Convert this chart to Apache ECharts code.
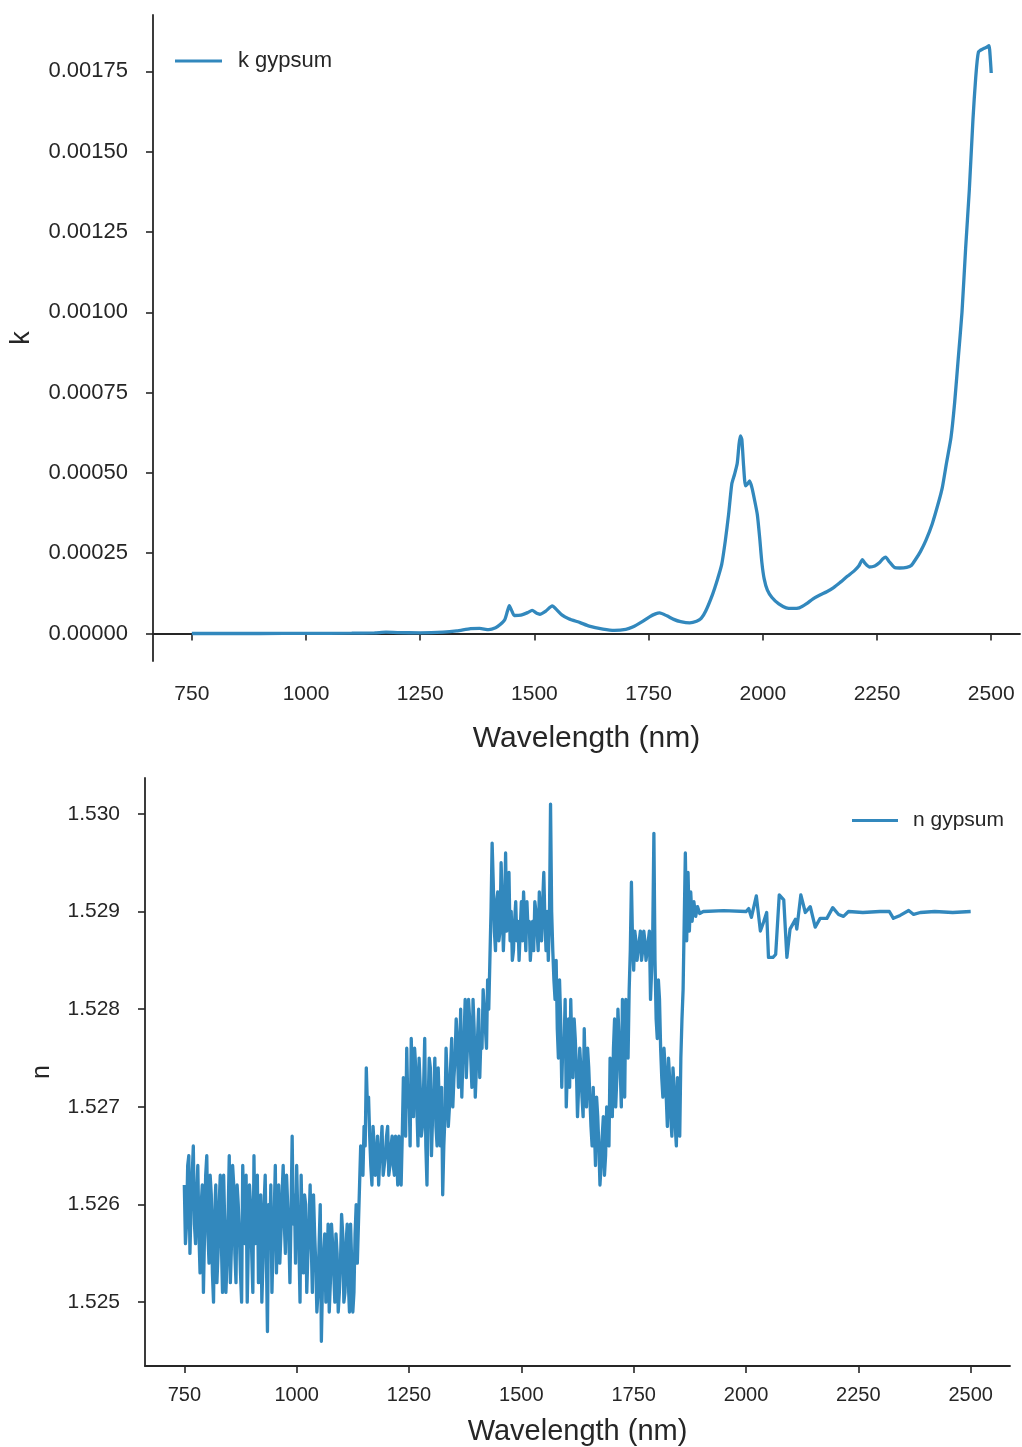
<!DOCTYPE html>
<html>
<head>
<meta charset="utf-8">
<script src="https://cdn.jsdelivr.net/npm/echarts@6/dist/echarts.min.js"></script>
<style>
html,body{margin:0;padding:0;background:#fff;}
#chart{width:1022px;height:1447px;}
</style>
</head>
<body>
<div id="chart"></div>
<script>
// ---------- data ----------
const wavelengthTicks = [750, 1000, 1250, 1500, 1750, 2000, 2250, 2500];
const kTicks = [0, 0.00025, 0.0005, 0.00075, 0.001, 0.00125, 0.0015, 0.00175];
const nTicks = [1.525, 1.526, 1.527, 1.528, 1.529, 1.530];

const kWavelength = [750, 800, 900, 1000, 1100, 1150, 1175, 1200, 1250, 1300, 1330, 1360, 1380, 1400, 1415, 1425, 1435, 1441, 1445, 1450, 1456, 1470, 1485, 1495, 1505, 1512, 1525, 1539, 1548, 1560, 1575, 1600, 1620, 1650, 1675, 1700, 1715, 1735, 1752, 1765, 1774, 1790, 1805, 1820, 1840, 1855, 1865, 1875, 1890, 1900, 1910, 1918, 1925, 1932, 1938, 1944, 1948, 1951, 1954, 1958, 1962, 1966, 1971, 1976, 1982, 1988, 1993, 1998, 2003, 2010, 2020, 2035, 2051, 2065, 2080, 2095, 2110, 2125, 2140, 2155, 2170, 2185, 2200, 2210, 2218, 2224, 2233, 2245, 2255, 2263, 2269, 2276, 2288, 2300, 2315, 2325, 2335, 2345, 2357, 2371, 2385, 2393, 2402, 2412, 2420, 2428, 2436, 2444, 2452, 2460, 2466, 2472, 2482, 2490, 2495, 2498, 2500];
const kValues = [0, 0, 0, 0.0000005, 0.000001, 0.000002, 0.000004, 0.000003, 0.000002, 0.000004, 0.000008, 0.000015, 0.000016, 0.000012, 0.000018, 0.000028, 0.000043, 0.000070, 0.000087, 0.000072, 0.000056, 0.000057, 0.000065, 0.000072, 0.000063, 0.000060, 0.000070, 0.000086, 0.000075, 0.000058, 0.000046, 0.000034, 0.000023, 0.000014, 0.000010, 0.000013, 0.000020, 0.000036, 0.000052, 0.000061, 0.000064, 0.000055, 0.000044, 0.000037, 0.000033, 0.000038, 0.000047, 0.000070, 0.000122, 0.000165, 0.000215, 0.000290, 0.000370, 0.000465, 0.000495, 0.000530, 0.000590, 0.000615, 0.000605, 0.000520, 0.000460, 0.000465, 0.000475, 0.000455, 0.000415, 0.000370, 0.000300, 0.000220, 0.000170, 0.000135, 0.000112, 0.000092, 0.000080, 0.000078, 0.000080, 0.000092, 0.000108, 0.000120, 0.000130, 0.000143, 0.000160, 0.000178, 0.000195, 0.000210, 0.000230, 0.000218, 0.000207, 0.000210, 0.000220, 0.000233, 0.000238, 0.000225, 0.000206, 0.000204, 0.000206, 0.000212, 0.000232, 0.000255, 0.000290, 0.000342, 0.000410, 0.000455, 0.000530, 0.000611, 0.000720, 0.000860, 0.001000, 0.001200, 0.001380, 0.001600, 0.001730, 0.001810, 0.001820, 0.001825, 0.001830, 0.001790, 0.001745];

// n: readings on a 5 nm grid plus the tail
const nWavelength = [
  750, 755, 760, 765, 770, 775, 780, 785, 790, 795, 800, 805, 810, 815, 820, 825, 830, 835, 840, 845, 850, 855, 860, 865, 870, 875, 880, 885, 890, 895, 900,
  905, 910, 915, 920, 925, 930, 935, 940, 945, 950, 955, 960, 965, 970, 975, 980, 985, 990, 995, 1000,
  1005, 1010, 1015, 1020, 1025, 1030, 1035, 1040, 1045, 1050, 1055, 1060, 1065, 1070, 1075, 1080, 1085, 1090, 1095, 1100, 1105, 1110, 1115, 1120, 1125, 1130,
  1135, 1140, 1145, 1150, 1155, 1160, 1165, 1170, 1175, 1180, 1185, 1190, 1195, 1200, 1205, 1210, 1215, 1220, 1225, 1230,
  1235, 1240, 1245, 1250, 1255, 1260, 1265, 1270, 1275, 1280, 1285, 1290, 1295, 1300, 1305, 1310, 1315, 1320, 1325, 1330,
  1335, 1340, 1345, 1350, 1355, 1360, 1365, 1370, 1375, 1380, 1385, 1390, 1395, 1400, 1405, 1410, 1415, 1420, 1425, 1430,
  1435, 1440, 1445, 1450, 1455, 1460, 1465, 1470, 1475, 1480, 1485, 1490, 1495, 1500, 1505, 1510, 1515, 1520, 1525, 1530, 1535, 1540, 1545, 1550, 1555, 1560,
  1565, 1570, 1575, 1580, 1585, 1590, 1595, 1600, 1605, 1610, 1615, 1620, 1625, 1630, 1635, 1640, 1645, 1650, 1655, 1660, 1665, 1670, 1675, 1680, 1685, 1690, 1695, 1700,
  1705, 1710, 1715, 1720, 1725, 1730, 1735, 1740, 1745, 1750, 1755, 1760, 1765, 1770, 1775, 1780, 1785, 1790, 1795, 1800, 1805, 1810, 1815, 1820, 1825, 1830, 1835, 1840, 1845, 1850, 1855, 1860,
  1865, 1868, 1871, 1874, 1877, 1880, 1884, 1888, 1892, 1897, 1905, 1950, 2000, 2006, 2012, 2023, 2032, 2039, 2046, 2050, 2060, 2066, 2074, 2084, 2091, 2098, 2110, 2113, 2122, 2132, 2143, 2154, 2165, 2180, 2193, 2206, 2217, 2228, 2260, 2298, 2319, 2328, 2343, 2362, 2373, 2388, 2420, 2460, 2500
];
const nValues = [
  1.5262, 1.5258, 1.5265, 1.5260, 1.5266, 1.5256, 1.5264, 1.5253, 1.5262, 1.5257, 1.5265, 1.5254, 1.5261, 1.5250, 1.5262, 1.5255, 1.5263, 1.5251, 1.5258, 1.5254, 1.5265, 1.5256, 1.5262, 1.5252, 1.5260, 1.5253, 1.5264, 1.5256, 1.5250, 1.5262, 1.5255,
  1.5265, 1.5258, 1.5252, 1.5261, 1.5254, 1.5263, 1.5247, 1.5256, 1.5251, 1.5259, 1.5253, 1.5262, 1.5257, 1.5264, 1.5255, 1.5260, 1.5252, 1.5267, 1.5261, 1.5264,
  1.5256, 1.5263, 1.5253, 1.5260, 1.5255, 1.5262, 1.5251, 1.5257, 1.5249, 1.5256, 1.5246, 1.5255, 1.5250, 1.5258, 1.5252, 1.5256, 1.5250, 1.5255, 1.5251, 1.5259, 1.5250, 1.5256, 1.5252, 1.5258, 1.5249, 1.5257,
  1.5254, 1.5262, 1.5265, 1.5268, 1.5274, 1.5271, 1.5264, 1.5268, 1.5263, 1.5267, 1.5265, 1.5268, 1.5264, 1.5267, 1.5263, 1.5266, 1.5264, 1.5267, 1.5262, 1.5264,
  1.5267, 1.5270, 1.5276, 1.5272, 1.5277, 1.5269, 1.5274, 1.5266, 1.5272, 1.5268, 1.5277, 1.5262, 1.5275, 1.5265, 1.5271, 1.5268, 1.5274, 1.5266, 1.5261, 1.5269,
  1.5273, 1.5270, 1.5277, 1.5273, 1.5279, 1.5272, 1.5280, 1.5275, 1.5281, 1.5276, 1.5279, 1.5272, 1.5278, 1.5274, 1.5280, 1.5277, 1.5282, 1.5278, 1.5283, 1.5285,
  1.5297, 1.5288, 1.5291, 1.5287, 1.5295, 1.5286, 1.5296, 1.5292, 1.5287, 1.5285, 1.5289, 1.5287, 1.5285, 1.5291, 1.5292, 1.5286, 1.5288, 1.5285, 1.5289, 1.5291, 1.5288, 1.5292, 1.5287, 1.5294, 1.5286, 1.5285,
  1.5301, 1.5286, 1.5281, 1.5278, 1.5283, 1.5272, 1.5276, 1.5270, 1.5279, 1.5281, 1.5273, 1.5277, 1.5269, 1.5276, 1.5271, 1.5278, 1.5270, 1.5274, 1.5268, 1.5272, 1.5264, 1.5269, 1.5262, 1.5267, 1.5263, 1.5270, 1.5266, 1.5272,
  1.5276, 1.5270, 1.5280, 1.5274, 1.5281, 1.5271, 1.5279, 1.5282, 1.5293, 1.5284, 1.5287, 1.5286, 1.5288, 1.5286, 1.5287, 1.5286, 1.5288, 1.5284, 1.5298, 1.5279, 1.5283, 1.5276, 1.5271, 1.5274, 1.5268, 1.5273, 1.5267, 1.5272, 1.5266, 1.5271, 1.5275, 1.5282,
  1.5296, 1.5287, 1.5294, 1.5288, 1.5292, 1.5289, 1.5291, 1.52895, 1.52905, 1.52898, 1.52900, 1.52901, 1.52900, 1.52903, 1.52894, 1.52916, 1.52880, 1.52889, 1.52899, 1.52853, 1.52853, 1.52856, 1.52917, 1.52912, 1.52853, 1.52882, 1.52892, 1.52882, 1.52917, 1.52899, 1.52905, 1.52884, 1.52893, 1.52893, 1.52904, 1.52897, 1.52895, 1.52900, 1.52899, 1.52900, 1.52900, 1.52893, 1.52896, 1.52901, 1.52897, 1.52899, 1.52900, 1.52899, 1.52900
];

// n: extra readings between the 5 nm grid points in the noisy part
const nWavelengthMid = [
  752.5, 757.5, 762.5, 767.5, 772.5, 777.5, 782.5, 787.5, 792.5, 797.5, 802.5, 807.5, 812.5, 817.5, 822.5, 827.5, 832.5, 837.5, 842.5, 847.5, 852.5, 857.5, 862.5, 867.5, 872.5, 877.5, 882.5, 887.5, 892.5, 897.5,
  902.5, 907.5, 912.5, 917.5, 922.5, 927.5, 932.5, 937.5, 942.5, 947.5, 952.5, 957.5, 962.5, 967.5, 972.5, 977.5, 982.5, 987.5, 992.5, 997.5,
  1002.5, 1007.5, 1012.5, 1017.5, 1022.5, 1027.5, 1032.5, 1037.5, 1042.5, 1047.5, 1052.5, 1057.5, 1062.5, 1067.5, 1072.5, 1077.5, 1082.5, 1087.5, 1092.5, 1097.5, 1102.5, 1107.5, 1112.5, 1117.5, 1122.5, 1127.5,
  1132.5, 1137.5, 1142.5, 1147.5, 1152.5, 1157.5, 1162.5, 1167.5, 1172.5, 1177.5, 1182.5, 1187.5, 1192.5, 1197.5, 1202.5, 1207.5, 1212.5, 1217.5, 1222.5, 1227.5,
  1232.5, 1237.5, 1242.5, 1247.5, 1252.5, 1257.5, 1262.5, 1267.5, 1272.5, 1277.5, 1282.5, 1287.5, 1292.5, 1297.5, 1302.5, 1307.5, 1312.5, 1317.5, 1322.5, 1327.5,
  1332.5, 1337.5, 1342.5, 1347.5, 1352.5, 1357.5, 1362.5, 1367.5, 1372.5, 1377.5, 1382.5, 1387.5, 1392.5, 1397.5, 1402.5, 1407.5, 1412.5, 1417.5, 1422.5, 1427.5,
  1432.5, 1437.5, 1442.5, 1447.5, 1452.5, 1457.5, 1462.5, 1467.5, 1472.5, 1477.5, 1482.5, 1487.5, 1492.5, 1497.5, 1502.5, 1507.5, 1512.5, 1517.5, 1522.5, 1527.5, 1532.5, 1537.5, 1542.5, 1547.5, 1552.5, 1557.5,
  1562.5, 1567.5, 1572.5, 1577.5, 1582.5, 1587.5, 1592.5, 1597.5, 1602.5, 1607.5, 1612.5, 1617.5, 1622.5, 1627.5, 1632.5, 1637.5, 1642.5, 1647.5, 1652.5, 1657.5, 1662.5, 1667.5, 1672.5, 1677.5, 1682.5, 1687.5, 1692.5, 1697.5,
  1702.5, 1707.5, 1712.5, 1717.5, 1722.5, 1727.5, 1732.5, 1737.5, 1742.5, 1747.5, 1752.5, 1757.5, 1762.5, 1767.5, 1772.5, 1777.5, 1782.5, 1787.5, 1792.5, 1797.5, 1802.5, 1807.5, 1812.5, 1817.5, 1822.5, 1827.5, 1832.5, 1837.5, 1842.5, 1847.5, 1852.5, 1857.5
];
const nValuesMid = [
  1.5256, 1.5264, 1.5255, 1.5263, 1.5258, 1.5261, 1.5257, 1.5260, 1.5251, 1.5263, 1.5257, 1.5263, 1.5253, 1.5259, 1.5252, 1.5260, 1.5256, 1.5263, 1.5251, 1.5259, 1.5252, 1.5264, 1.5255, 1.5262, 1.5257, 1.5250, 1.5259, 1.5263, 1.5256, 1.5260,
  1.5251, 1.5256, 1.5263, 1.5257, 1.5250, 1.5260, 1.5255, 1.5260, 1.5262, 1.5256, 1.5264, 1.5258, 1.5254, 1.5261, 1.5258, 1.5263, 1.5257, 1.5259, 1.5258, 1.5254,
  1.5259, 1.5250, 1.5257, 1.5261, 1.5251, 1.5258, 1.5256, 1.5261, 1.5254, 1.5251, 1.5260, 1.5252, 1.5257, 1.5253, 1.5249, 1.5258, 1.5253, 1.5257, 1.5249, 1.5254, 1.5257, 1.5251, 1.5258, 1.5249, 1.5254, 1.5251,
  1.5260, 1.5258, 1.5266, 1.5263, 1.5266, 1.5270, 1.5267, 1.5262, 1.5266, 1.5264, 1.5262, 1.5266, 1.5263, 1.5265, 1.5268, 1.5264, 1.5267, 1.5263, 1.5265, 1.5267,
  1.5262, 1.5273, 1.5267, 1.5270, 1.5266, 1.5273, 1.5276, 1.5270, 1.5275, 1.5267, 1.5272, 1.5266, 1.5270, 1.5274, 1.5269, 1.5275, 1.5266, 1.5270, 1.5272, 1.5266,
  1.5276, 1.5268, 1.5274, 1.5270, 1.5275, 1.5277, 1.5274, 1.5271, 1.5277, 1.5273, 1.5281, 1.5275, 1.5281, 1.5271, 1.5277, 1.5273, 1.5276, 1.5280, 1.5276, 1.5280,
  1.5290, 1.5293, 1.5286, 1.5292, 1.5288, 1.5291, 1.5289, 1.5288, 1.5294, 1.5290, 1.5286, 1.5291, 1.5289, 1.5288, 1.5287, 1.5289, 1.5291, 1.5289, 1.5287, 1.5286, 1.5290, 1.5286, 1.5289, 1.5291, 1.5289, 1.5290,
  1.5289, 1.5290, 1.5283, 1.5285, 1.5275, 1.5279, 1.5277, 1.5281, 1.5274, 1.5272, 1.5276, 1.5279, 1.5274, 1.5272, 1.5274, 1.5269, 1.5273, 1.5276, 1.5271, 1.5266, 1.5268, 1.5271, 1.5266, 1.5264, 1.5269, 1.5265, 1.5267, 1.5275,
  1.5269, 1.5279, 1.5273, 1.5277, 1.5270, 1.5276, 1.5281, 1.5275, 1.5286, 1.5287, 1.5288, 1.5285, 1.5287, 1.5285, 1.5288, 1.5285, 1.5287, 1.5281, 1.5288, 1.5285, 1.5277, 1.5281, 1.5273, 1.5276, 1.5271, 1.5275, 1.5269, 1.5274, 1.5268, 1.5273, 1.5267, 1.5279
];

// ---------- chart ----------
const lineColor = '#3288bd';
const axisColor = '#262626';
const textColor = '#262626';
const font = 'Liberation Sans, Arial, sans-serif';

const kData = kWavelength.map((w, i) => [w, kValues[i]]);
const nData = nWavelength.map((w, i) => [w, nValues[i]])
  .concat(nWavelengthMid.map((w, i) => [w, nValuesMid[i]]))
  .sort((a, b) => a[0] - b[0]);

const axisCommon = {
  axisLine: { show: true, lineStyle: { color: axisColor, width: 1.8 } },
  axisTick: { show: true, inside: false, length: 7, lineStyle: { color: axisColor, width: 1.6 } },
  splitLine: { show: false }
};

const chart = echarts.init(document.getElementById('chart'), null, { renderer: 'canvas' });
chart.setOption({
  backgroundColor: '#ffffff',
  animation: false,
  grid: [
    { left: 153, top: 15, width: 867, height: 646 },
    { left: 145, top: 778, width: 865, height: 590 }
  ],
  legend: [
    {
      data: ['k gypsum'], left: 175, top: 50, padding: 0, icon: 'rect', itemWidth: 47, itemHeight: 3,
      textStyle: { fontSize: 22, color: textColor, fontFamily: font, padding: [0, 0, 0, 11] }
    },
    {
      data: ['n gypsum'], left: 852, top: 810, padding: 0, icon: 'rect', itemWidth: 46, itemHeight: 3,
      textStyle: { fontSize: 21, color: textColor, fontFamily: font, padding: [0, 0, 0, 10] }
    }
  ],
  xAxis: [
    Object.assign({}, axisCommon, {
      type: 'value', gridIndex: 0, min: 665, max: 2563,
      name: 'Wavelength (nm)', nameLocation: 'middle', nameGap: 63,
      nameTextStyle: { fontSize: 30, color: textColor, fontFamily: font },
      axisTick: Object.assign({}, axisCommon.axisTick, { customValues: wavelengthTicks }),
      axisLabel: { customValues: wavelengthTicks, fontSize: 21, color: textColor, fontFamily: font, margin: 23,
        formatter: v => String(v) }
    }),
    Object.assign({}, axisCommon, {
      type: 'value', gridIndex: 1, min: 662.5, max: 2587.5,
      name: 'Wavelength (nm)', nameLocation: 'middle', nameGap: 51,
      nameTextStyle: { fontSize: 29, color: textColor, fontFamily: font },
      axisTick: Object.assign({}, axisCommon.axisTick, { customValues: wavelengthTicks }),
      axisLabel: { customValues: wavelengthTicks, fontSize: 20, color: textColor, fontFamily: font, margin: 19,
        formatter: v => String(v) }
    })
  ],
  yAxis: [
    Object.assign({}, axisCommon, {
      type: 'value', gridIndex: 0, min: -0.0000856, max: 0.0019256,
      name: 'k', nameLocation: 'middle', nameGap: 118, nameRotate: 90,
      nameTextStyle: { fontSize: 27, color: textColor, fontFamily: font },
      axisTick: Object.assign({}, axisCommon.axisTick, { customValues: kTicks }),
      axisLabel: { customValues: kTicks, fontSize: 22, color: textColor, fontFamily: font, margin: 25,
        formatter: v => v.toFixed(5) }
    }),
    Object.assign({}, axisCommon, {
      type: 'value', gridIndex: 1, min: 1.524347, max: 1.530367,
      name: 'n', nameLocation: 'middle', nameGap: 90, nameRotate: 90,
      nameTextStyle: { fontSize: 25, color: textColor, fontFamily: font },
      axisTick: Object.assign({}, axisCommon.axisTick, { customValues: nTicks }),
      axisLabel: { customValues: nTicks, fontSize: 21, color: textColor, fontFamily: font, margin: 25,
        formatter: v => v.toFixed(3) }
    })
  ],
  series: [
    {
      name: 'k gypsum', type: 'line', xAxisIndex: 0, yAxisIndex: 0, data: kData,
      symbol: 'none', smooth: 0.2, lineStyle: { color: lineColor, width: 3.3 }, itemStyle: { color: lineColor }
    },
    {
      name: 'n gypsum', type: 'line', xAxisIndex: 1, yAxisIndex: 1, data: nData,
      symbol: 'none', lineStyle: { color: lineColor, width: 3.3, join: 'round' }, itemStyle: { color: lineColor }
    }
  ]
});
</script>
</body>
</html>
